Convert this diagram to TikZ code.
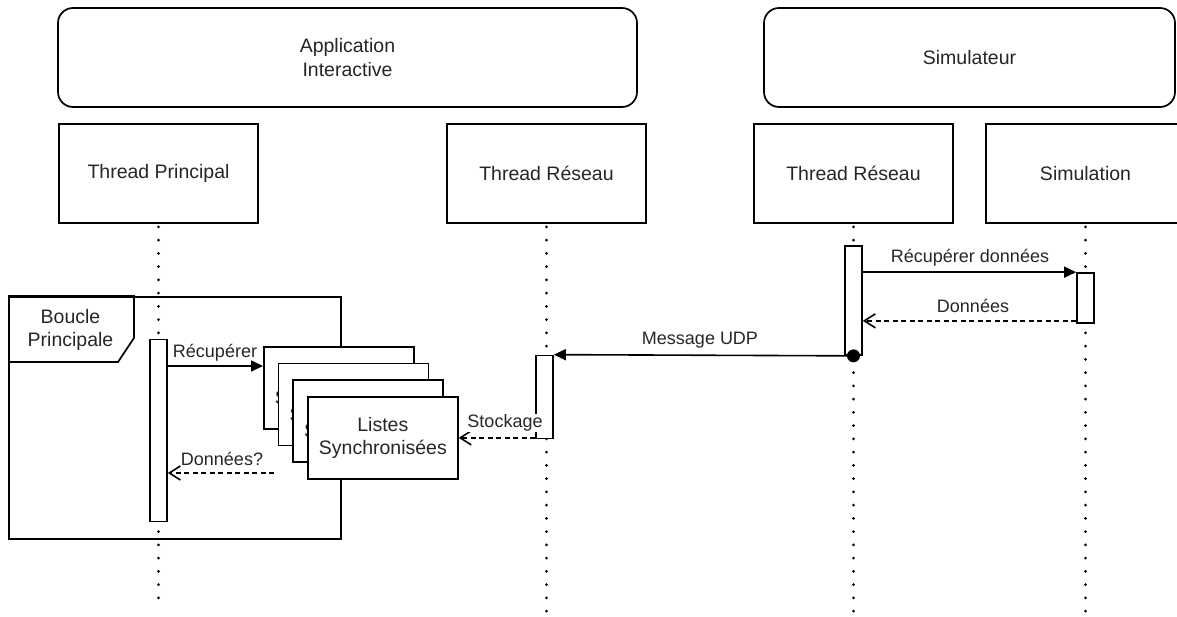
\documentclass[tikz,border=0pt]{standalone}
\usepackage{fontspec}
\setmainfont{Liberation Sans}
\usetikzlibrary{arrows.meta}
\newcommand\mynodefont{\fontsize{19.5}{23.5}\selectfont}
\newcommand\mylblfont{\fontsize{18}{21.6}\selectfont}
\tikzset{
  frame/.style={draw, line width=1.7pt, fill=white, font=\mynodefont, text=black!85, align=center, inner sep=0pt},
  lbox/.style={frame, minimum width=199pt, minimum height=99pt},
  life/.style={line width=3pt, line cap=round, dash pattern=on 0pt off 13.25pt},
  actbar/.style={draw, fill=white, line width=1.7pt, inner sep=0pt, minimum width=17pt},
  msg/.style={line width=1.6pt, -{Triangle[length=12pt,width=11pt]}},
  ret/.style={line width=1.6pt, dash pattern=on 5pt off 3.5pt, -{Straight Barb[length=11pt,width=14pt]}},
  lbl/.style={font=\mylblfont, text=black!85, inner sep=1pt},
  slist/.style={frame, minimum width=150pt, minimum height=82pt, anchor=north west}
}
\begin{document}
\begin{tikzpicture}[x=1pt,y=-1pt]
\useasboundingbox (0,0) rectangle (1177,617);

% top group boxes
\node[frame, rounded corners=15pt, minimum width=579pt, minimum height=99pt] (app) at (347.5,57.5) {Application\\Interactive};
\node[frame, rounded corners=15pt, minimum width=411pt, minimum height=99pt] (sim) at (969.5,57.5) {Simulateur};

% lifeline heads
\node[lbox] (tp) at (158.5,173.5) {Thread Principal};
\node[lbox] (tra) at (546.5,173.5) {Thread Réseau};
\node[lbox] (trs) at (853.5,173.5) {Thread Réseau};
\node[lbox] (simu) at (1085.5,173.5) {Simulation};

% lifelines
\coordinate (e1) at (158.5,602);
\coordinate (e2) at (546.5,615);
\coordinate (e3) at (853.5,615);
\coordinate (e4) at (1085.5,628);
\draw[life] ([yshift=-3pt]tp.south) -- (e1);
\draw[life] ([yshift=-3pt]tra.south) -- (e2);
\draw[life] ([yshift=-3pt]trs.south) -- (e3);
\draw[life] ([yshift=-3pt]simu.south) -- (e4);

% loop frame
\node[draw, line width=1.7pt, minimum width=332pt, minimum height=242pt, anchor=north west, inner sep=0pt] (loop) at (8,296) {};
\draw[line width=1.7pt] (loop.north west) -- (134,296) -- (134,338) -- (118,362) -- (8,362);
\node[font=\mynodefont, text=black!85, align=center, inner sep=0pt] (looplbl) at (70.5,330) {Boucle\\Principale};

% activation bars
\node[actbar, minimum height=182pt] (b1) at (158.5,430.5) {};
\node[actbar, minimum height=83pt] (b2) at (544.5,397) {};
\node[actbar, minimum height=109pt] (b3) at (853.5,300.5) {};
\node[actbar, minimum height=50pt] (b4) at (1085.5,298) {};

% synchronized lists stack
\node[slist] (L1) at (263,346) {Listes\\Synchronisées};
\node[slist] (L2) at (277.7,362.7) {Listes\\Synchronisées};
\node[slist] (L3) at (292.3,379.3) {Listes\\Synchronisées};
\node[slist] (L4) at (307,396) {Listes\\Synchronisées};

% messages
\draw[msg] (b3.east |- b4.north) -- (b4.north west);
\node[lbl] (m1) at (970,258) {Récupérer données};

\draw[ret] ([yshift=3pt]b4.south west) -- ([yshift=3pt]b3.east |- b4.south);
\node[lbl] (m2) at (973,306) {Données};

\draw[msg] (b3.south) -- (b2.north east);
\fill (b3.south) circle (6.5pt);
\node[lbl] (m3) at (700,340) {Message UDP};

\draw[ret] ([yshift=1.5pt]b2.south west) -- ([yshift=1.5pt]b2.south west -| L4.east);
\node[lbl, fill=white] (m4) at (505,423) {Stockage};

\draw[msg] (b1.east |- 0,366) -- (L1.west |- 0,366);
\node[lbl] (m5) at (215,353) {Récupérer};

\coordinate (dq) at (274,473);
\draw[ret] (dq) -- (b1.east |- dq);
\node[lbl] (m6) at (222,459) {Données?};
\end{tikzpicture}
\end{document}
